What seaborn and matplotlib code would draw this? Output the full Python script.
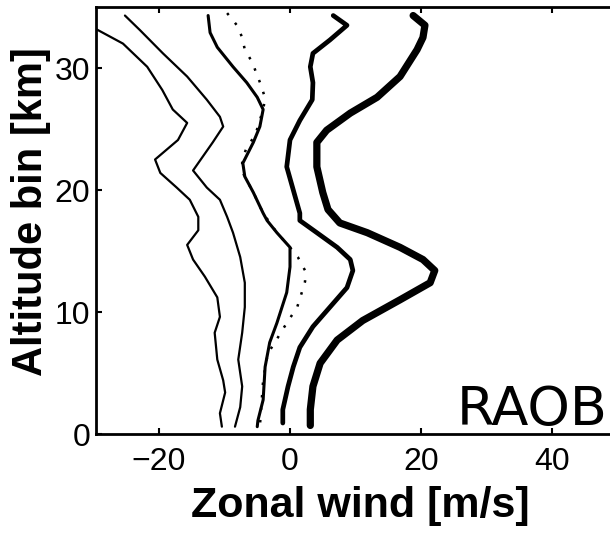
import matplotlib
matplotlib.use("Agg")
import matplotlib.pyplot as plt
import seaborn as sns
import pandas as pd

# Zonal-wind percentile profiles (m/s) against altitude bin (km)
alt_p10 = [33.7, 33.1, 32.0, 30.1, 28.2, 26.6, 25.5, 24.1, 22.5, 21.4, 20.2, 19.2,
           17.8, 16.7, 15.5, 14.3, 12.9, 11.2, 9.6, 8.3, 6.1, 4.4, 3.4, 1.7, 0.6]
wind_p10 = [-31.3, -29.3, -25.5, -21.8, -19.5, -17.9, -15.7, -17.1, -20.6, -19.8, -17.3, -15.3,
            -14.0, -14.0, -15.7, -14.8, -13.0, -11.1, -10.7, -11.5, -11.1, -10.2, -9.9, -10.7, -10.4]

alt_p25 = [34.3, 33.1, 31.2, 29.3, 27.4, 26.0, 25.2, 23.9, 21.6, 20.2, 19.2, 17.8,
           16.5, 14.5, 12.4, 10.4, 8.3, 6.1, 3.9, 2.2, 0.6]
wind_p25 = [-25.2, -22.9, -19.4, -15.7, -12.7, -10.7, -10.2, -11.8, -14.8, -12.7, -10.7, -9.6,
            -8.7, -7.6, -6.9, -6.9, -7.3, -7.9, -7.3, -7.6, -8.4]

alt_p50 = [34.3, 32.9, 31.7, 30.1, 28.8, 27.6, 26.6, 25.2, 23.9, 22.2, 21.1, 19.8,
           18.1, 17.5, 16.5, 15.3, 13.7, 11.6, 9.1, 7.5, 5.5, 2.8, 1.1, 0.6]
wind_p50 = [-12.5, -12.2, -11.1, -8.7, -6.6, -5.0, -4.1, -4.6, -5.6, -7.2, -6.9, -5.6,
            -4.1, -3.5, -2.0, 0.0, 0.0, -0.5, -2.0, -3.1, -3.8, -4.1, -4.9, -5.0]

alt_mean = [34.5, 33.5, 32.5, 31.5, 30.5, 29.4, 28.4, 27.5, 26.6, 24.5, 23.5, 22.5,
            21.5, 19.8, 18.1, 16.5, 15.3, 14.5, 13.4, 12.5, 11.6, 10.4, 9.5, 8.5,
            7.5, 6.6, 4.4, 0.6]
wind_mean = [-9.6, -8.1, -7.3, -6.9, -5.8, -5.0, -4.3, -3.8, -4.1, -5.3, -6.6, -7.3,
             -7.3, -5.6, -4.1, -2.0, 0.0, 1.2, 2.3, 2.3, 1.8, 1.1, 0.0, -1.2,
             -2.3, -3.4, -4.1, -4.6]

alt_p75 = [34.3, 33.5, 32.3, 31.2, 30.1, 28.8, 27.4, 25.7, 24.1, 21.9, 20.0, 18.1,
           17.5, 16.5, 15.3, 14.3, 13.4, 12.0, 10.4, 8.8, 7.1, 5.5, 3.9, 2.0, 0.9]
wind_p75 = [6.6, 8.7, 6.1, 3.5, 3.1, 3.5, 3.4, 1.5, 0.0, -0.5, 0.5, 1.5,
            1.5, 4.1, 7.2, 9.2, 9.6, 8.7, 6.1, 3.5, 1.5, 0.5, -0.3, -1.1, -1.1]

alt_p90 = [34.3, 33.5, 32.5, 31.5, 29.3, 27.6, 26.3, 24.9, 23.9, 21.9, 19.8, 18.4,
           17.3, 16.5, 15.3, 14.3, 13.4, 12.4, 11.0, 9.3, 7.7, 5.8, 3.9, 2.0, 0.7]
wind_p90 = [18.8, 20.6, 20.3, 19.4, 16.8, 13.3, 9.2, 5.6, 4.1, 4.1, 5.0, 5.8,
            7.6, 11.8, 16.8, 20.3, 22.1, 21.4, 16.8, 11.1, 7.2, 4.6, 3.5, 3.1, 3.1]

x_ticks = [-20, 0, 20, 40]
y_ticks = [0, 10, 20, 30]
x_label = "Zonal wind [m/s]"
y_label = "Altitude bin [km]"
panel_tag = "RAOB"

sns.set_theme(style="ticks")
plt.rcParams["font.family"] = ["Liberation Sans", "DejaVu Sans"]
plt.rcParams["axes.unicode_minus"] = True
plt.rcParams["text.color"] = "black"
plt.rcParams["axes.labelcolor"] = "black"

W, H = 610, 536
PX_PER_UNIT = 6.55        # horizontal scale of the wind axis
X0_PX = 290               # pixel column of zero wind
LEFT_PX, RIGHT_PX = 96, 610
TOP_PX, BOTTOM_PX = 7, 434
x_min = (LEFT_PX - X0_PX) / PX_PER_UNIT
x_max = (RIGHT_PX - X0_PX) / PX_PER_UNIT
AX_W = RIGHT_PX - LEFT_PX
AX_H = BOTTOM_PX - TOP_PX

fig = plt.figure(figsize=(W / 100, H / 100), dpi=100)
ax = fig.add_axes([LEFT_PX / W, (H - BOTTOM_PX) / H, AX_W / W, AX_H / H])

profiles = [
    (wind_p10, alt_p10, 1.6, "-"),
    (wind_p25, alt_p25, 1.6, "-"),
    (wind_p50, alt_p50, 2.2, "-"),
    (wind_mean, alt_mean, 1.8, (0, (1, 4))),
    (wind_p75, alt_p75, 3.4, "-"),
    (wind_p90, alt_p90, 5.2, "-"),
]
for wind, alt, lw, ls in profiles:
    df = pd.DataFrame({"wind": wind, "alt": alt})
    sns.lineplot(data=df, x="wind", y="alt", sort=False, estimator=None,
                 color="black", linewidth=lw, linestyle=ls, ax=ax)

ax.set_xlim(x_min, x_max)
ax.set_ylim(0, 35)
ax.set_xticks(x_ticks)
ax.set_yticks(y_ticks)
ax.tick_params(axis="both", direction="in", length=4, width=1.5, color="black",
               top=True, right=False, labelsize=23, labelcolor="black")
ax.tick_params(axis="x", pad=9)
ax.tick_params(axis="y", pad=4)
for name, sp in ax.spines.items():
    sp.set_visible(name != "right")
    sp.set_color("black")
    sp.set_linewidth(2.0)

ax.set_xlabel(x_label, fontsize=31, fontweight="bold")
ax.set_ylabel(y_label, fontsize=30, fontweight="bold")
ax.xaxis.set_label_coords((360 - LEFT_PX) / AX_W, -52 / AX_H)
ax.yaxis.set_label_coords(-45 / AX_W, (BOTTOM_PX - 212) / AX_H)

fig.text(457 / W, (H - 425) / H, panel_tag, fontsize=39, family="DejaVu Sans",
         ha="left", va="baseline", color="black")

fig.savefig("out.png", dpi=100, bbox_inches=None)
